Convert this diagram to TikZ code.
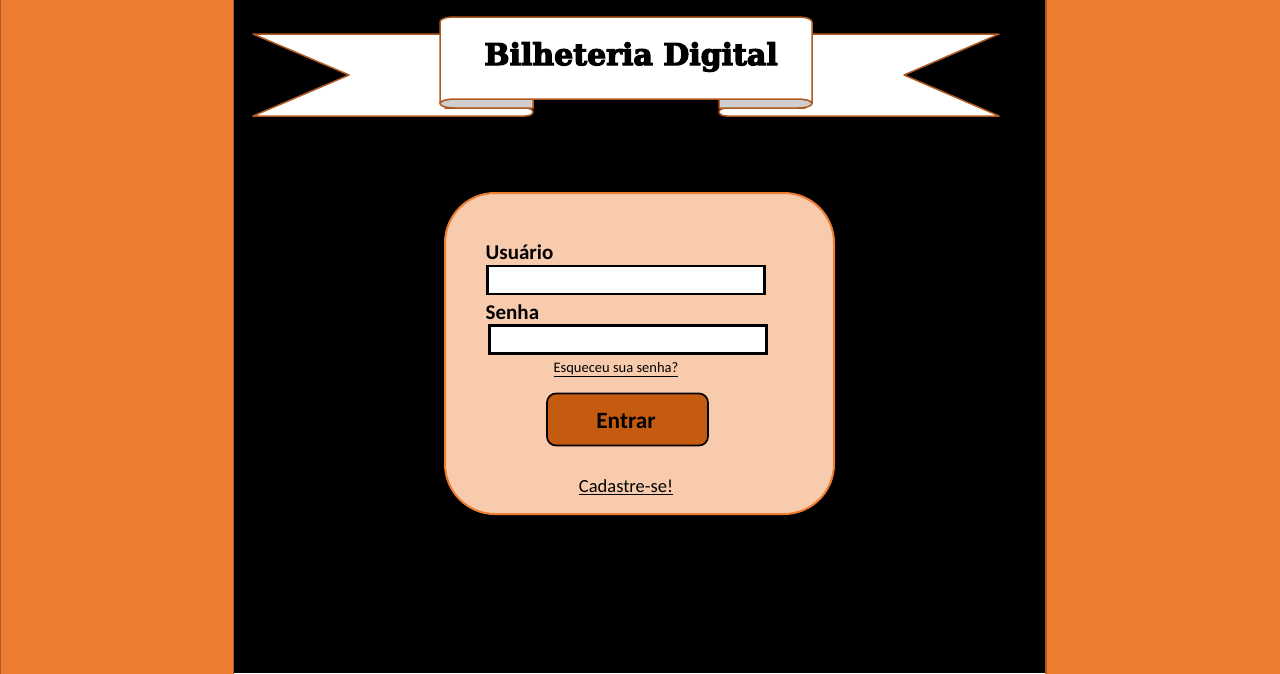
\documentclass[tikz,border=0pt]{standalone}
\usepackage{fontspec}
\setmainfont{Carlito}
\newfontfamily\titlefont[FakeBold=4]{DejaVu Serif Bold}
\definecolor{sideor}{HTML}{ED7D31}
\definecolor{sideln}{HTML}{AE5A21}
\definecolor{panelf}{HTML}{F8CBAD}
\definecolor{btnf}{HTML}{C55A11}
\definecolor{curlg}{HTML}{D0CECE}
\tikzset{
  x=1pt,y=-1pt,
  sidebar/.style={fill=sideor,draw=sideln,line width=1.6pt},
  ribbon/.style={fill=white,draw=sideln,line width=1.5pt,line join=round},
  curl/.style={fill=curlg,draw=sideln,line width=1.5pt,line join=round},
  panelbox/.style={rectangle,rounded corners=50pt,fill=panelf,draw=sideor,line width=2pt,minimum width=389pt,minimum height=321pt,inner sep=0pt},
  inputbox/.style={rectangle,fill=white,draw=black,line width=2.2pt,minimum width=277pt,minimum height=28pt,inner sep=0pt},
  btnbox/.style={rectangle,rounded corners=9pt,fill=btnf,draw=black,line width=1.7pt,minimum width=161pt,minimum height=52pt,inner sep=0pt},
  lbl/.style={inner sep=0pt,font=\fontsize{21}{24}\selectfont\bfseries,text=black},
  linktext/.style={inner sep=0pt,text=black},
}
\begin{document}
\begin{tikzpicture}
\useasboundingbox (0,0) rectangle (1280,673);
\fill[black] (0,0) rectangle (1280,673);
\path[sidebar] (0.5,-2) rectangle (233.5,675);
\path[sidebar] (1046,-2) rectangle (1282,675);
% ribbon tails
\path[ribbon] (253,34) -- (445,34) -- (445,108) -- (525,108)
  .. controls (530,108) and (533,110) .. (533,112) .. controls (533,114) and (530,116) .. (525,116)
  -- (253,116) -- (349,75) -- cycle;
\path[ribbon] (999,34) -- (805,34) -- (805,108) -- (727,108)
  .. controls (722,108) and (719,110) .. (719,112) .. controls (719,114) and (722,116) .. (727,116)
  -- (999,116) -- (904,75) -- cycle;
% curls
\path[curl] (455,99) -- (533,99) -- (533,108) -- (455,108) .. controls (446,108) and (440,106) .. (440,103.5) .. controls (440,101) and (446,99) .. (455,99) -- cycle;
\path[curl] (797,99) -- (719,99) -- (719,108) -- (797,108) .. controls (806,108) and (812,106) .. (812,103.5) .. controls (812,101) and (806,99) .. (797,99) -- cycle;
% centre of banner
\path[ribbon] (440,103.5) -- (440,22) .. controls (440,19) and (446,17) .. (455,17) -- (797,17)
  .. controls (806,17) and (812,19) .. (812,22) -- (812,103.5)
  .. controls (812,101) and (806,99) .. (797,99) -- (455,99) .. controls (446,99) and (440,101) .. (440,103.5) -- cycle;
\node[inner sep=0pt,font=\titlefont\fontsize{30}{32}\selectfont] (title) at (631,57) {Bilheteria Digital};
% panel
\node[panelbox] (panel) at (639.5,353.5) {};
\node[lbl,anchor=base west] (usuario) at (485.5,259) {Usuário};
\node[inputbox] (userin) at (626,280) {};
\node[lbl,anchor=base west] (senha) at (485.5,319) {Senha};
\node[inputbox] (passin) at (628,339.5) {};
\node[linktext,font=\fontsize{14.5}{17}\selectfont,anchor=base] (forgot) at (616,372) {\underline{Esqueceu sua senha?}};
\node[btnbox] (btn) at (627.5,419.5) {};
\node[inner sep=0pt,font=\fontsize{23.3}{28}\selectfont\bfseries,anchor=base] (entrar) at (626,428) {Entrar};
\node[linktext,font=\fontsize{18.5}{23}\selectfont,anchor=base] (cad) at (626,492.5) {\underline{Cadastre-se!}};
\end{tikzpicture}
\end{document}
